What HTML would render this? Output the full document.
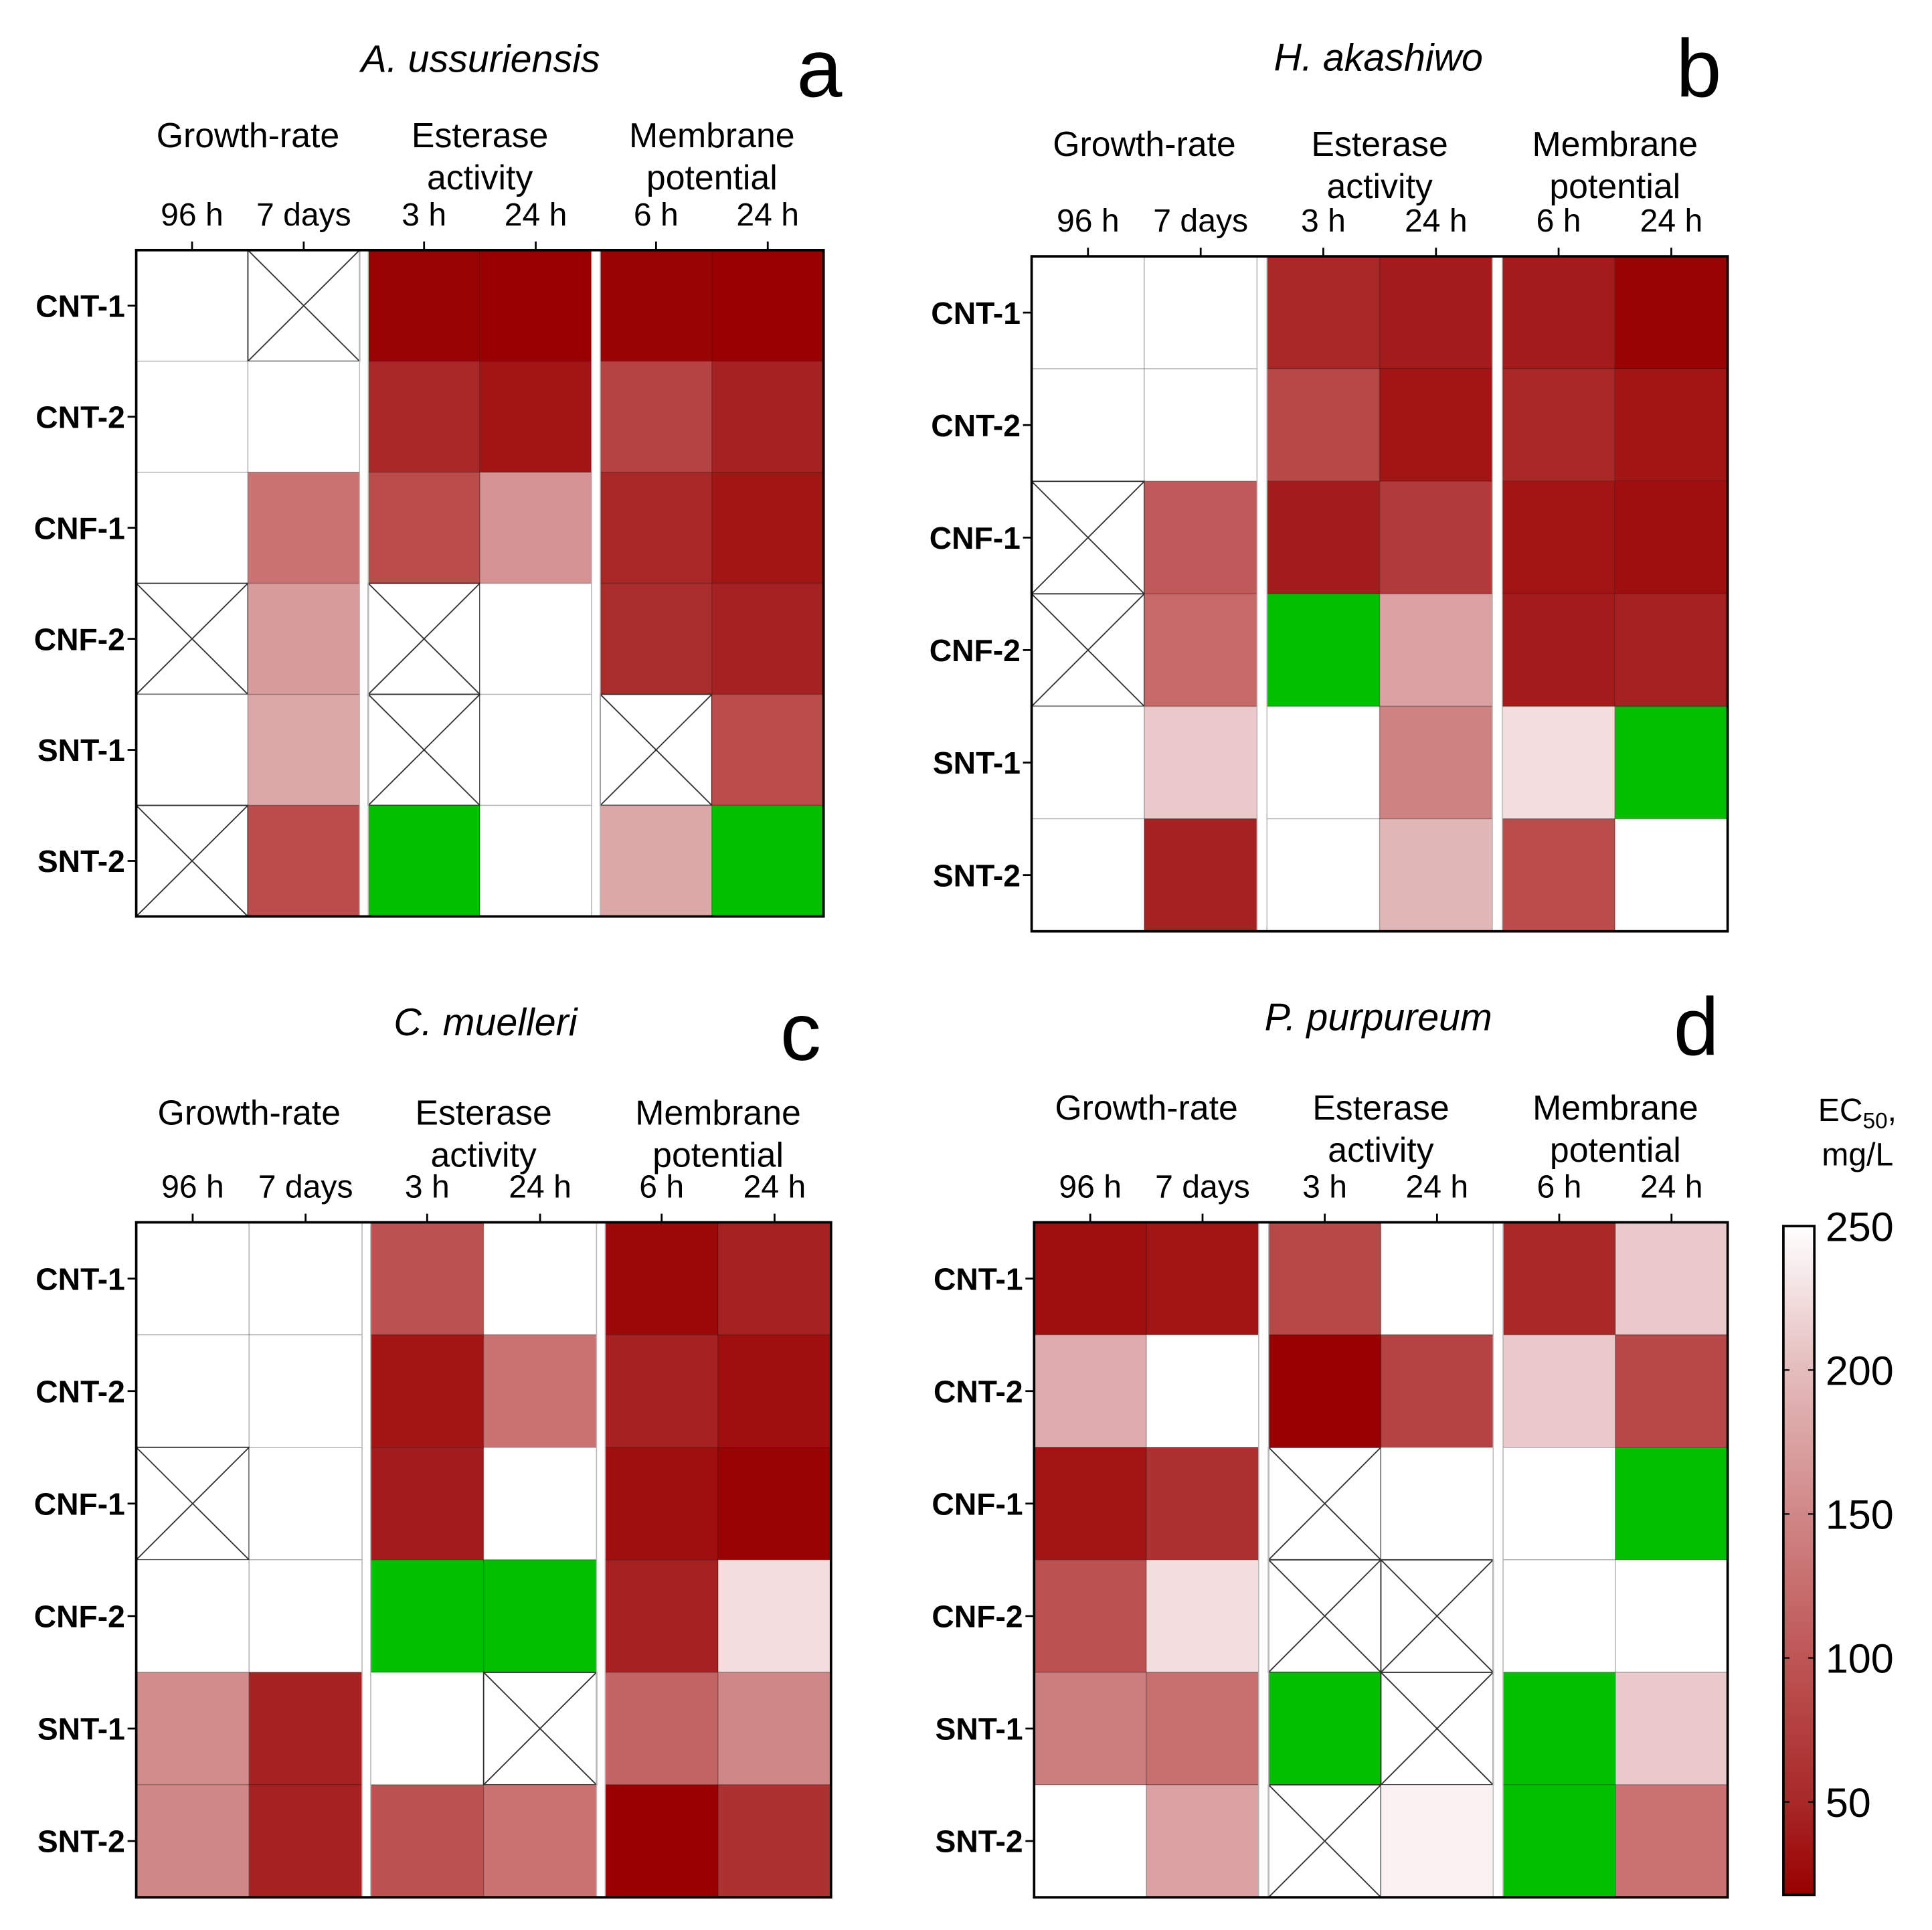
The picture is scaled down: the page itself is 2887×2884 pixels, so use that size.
<!DOCTYPE html>
<html><head><meta charset="utf-8"><style>
html,body{margin:0;padding:0;background:#fff}
svg{display:block}
text{font-family:"Liberation Sans",Arial,sans-serif;fill:#000}
</style></head><body>
<svg id="fig" xmlns="http://www.w3.org/2000/svg" width="2887" height="2884" viewBox="0 0 1560 1558.4" preserveAspectRatio="none"></svg>
<script>
// ---- data ----
const rowLabels = ["CNT-1","CNT-2","CNF-1","CNF-2","SNT-1","SNT-2"];
const colLabels = ["96 h","7 days","3 h","24 h","6 h","24 h"];
const groupLabels = [["Growth-rate"],["Esterase","activity"],["Membrane","potential"]];
const speciesNames = ["A. ussuriensis","H. akashiwo","C. muelleri","P. purpureum"];
const panelLetters = ["a","b","c","d"];
const colorbarTicks = [250,200,150,100,50];
// values in mg/L; 260 = above range (white), "X" = crossed (not determined), "G" = green (stimulation)
const valuesA = [
 [260,"X",20,18,20,18],
 [260,260,50,35,80,45],
 [260,130,90,160,50,35],
 ["X",170,"X",260,55,45],
 [260,180,"X",260,"X",90],
 ["X",90,"G",260,180,"G"]];
const valuesB = [
 [260,260,50,40,40,20],
 [260,260,85,35,50,35],
 ["X",105,40,70,35,30],
 ["X",120,"G",175,40,45],
 [260,210,260,145,225,"G"],
 [260,45,260,195,90,260]];
const valuesC = [
 [260,260,95,260,25,45],
 [260,260,35,130,45,30],
 ["X",260,40,260,30,20],
 [260,260,"G","G",45,225],
 [155,45,260,"X",115,150],
 [150,45,95,130,18,60]];
const valuesD = [
 [30,35,85,260,50,210],
 [185,260,18,80,210,85],
 [35,60,"X",260,260,"G"],
 [95,225,"X","X",260,260],
 [140,125,"G","X","G",210],
 [260,175,"X",240,"G",130]];
const panelValues = [valuesA,valuesB,valuesC,valuesD];

// ---- layout (not data) ----
const layouts = [
 {x0:110,x1:665,y0:202,y1:740,gap:7,tx:388,ty:58,lx:680,ly:78,hy:119},
 {x0:833,x1:1395,y0:207,y1:752,gap:8,tx:1113,ty:57,lx:1390,ly:78,hy:126},
 {x0:110,x1:671,y0:987,y1:1532,gap:7,tx:392,ty:836,lx:663,ly:856,hy:908},
 {x0:835,x1:1395,y0:987,y1:1532,gap:8,tx:1113,ty:832,lx:1388,ly:852,hy:904}];
const stops=[[18,[153,0,0]],[50,[168,40,40]],[100,[190,85,85]],[150,[208,135,135]],[200,[228,188,188]],[250,[255,255,255]]];
function colorScale(v){
  if(v>=250) return "#ffffff";
  if(v<=stops[0][0]) return "rgb(153,0,0)";
  for(let i=1;i<stops.length;i++){
    if(v<=stops[i][0]){const a=stops[i-1],b=stops[i];const t=(v-a[0])/(b[0]-a[0]);
      const c=a[1].map((x,k)=>Math.round(x+(b[1][k]-x)*t));return `rgb(${c})`;}
  }
}
const NS="http://www.w3.org/2000/svg";
const svg=document.getElementById("fig");
function mk(tag,attrs,parent){const e=document.createElementNS(NS,tag);for(const k in attrs)e.setAttribute(k,attrs[k]);(parent||svg).appendChild(e);return e;}

panelValues.forEach((vals,p)=>{
  const L=layouts[p];
  const g=mk("g",{});
  
  
  const cw=(L.x1-L.x0-2*L.gap)/6, rh=(L.y1-L.y0)/6;
  const xScale=c=>L.x0+c*cw+Math.floor(c/2)*L.gap;
  const yScale=r=>L.y0+r*rh;
  const t=mk("text",{x:L.tx,y:L.ty,"font-size":31,"font-style":"italic","text-anchor":"middle"},g);t.textContent=speciesNames[p];
  
  const lt=mk("text",{x:L.lx,y:L.ly,"font-size":66,"text-anchor":"end"},g);lt.textContent=panelLetters[p];
  
  groupLabels.forEach((lines,gi)=>{
    const cx=(xScale(gi*2)+xScale(gi*2+1)+cw)/2;
    lines.forEach((s,li)=>{const e=mk("text",{x:cx,y:L.hy+li*34,"font-size":28,"text-anchor":"middle"},g);e.textContent=s;
      });
  });
  colLabels.forEach((s,c)=>{
    const cx=xScale(c)+cw/2;
    const e=mk("text",{x:cx,y:L.y0-20,"font-size":26,"text-anchor":"middle"},g);e.textContent=s;
    
    mk("line",{x1:cx,x2:cx,y1:L.y0-7,y2:L.y0,stroke:"#000","stroke-width":1.5},g);
  });
  rowLabels.forEach((s,r)=>{
    const cy=yScale(r)+rh/2;
    const e=mk("text",{x:L.x0-9,y:cy+9,"font-size":25,"font-weight":"bold","text-anchor":"end"},g);e.textContent=s;
    
    mk("line",{x1:L.x0-7,x2:L.x0,y1:cy,y2:cy,stroke:"#000","stroke-width":1.5},g);
  });
  vals.forEach((row,r)=>row.forEach((v,c)=>{
    const x=xScale(c),y=yScale(r);
    let fill=v==="G"?"#00c000":(v==="X"?"#ffffff":colorScale(v));
    const rc=mk("rect",{x:x,y:y,width:cw,height:rh,fill:fill,stroke:"rgba(0,0,0,0.22)","stroke-width":0.8},g);
    
    if(v==="X"){
      mk("rect",{x:x,y:y,width:cw,height:rh,fill:"none",stroke:"#333","stroke-width":1},g);
      mk("line",{x1:x,y1:y,x2:x+cw,y2:y+rh,stroke:"#333","stroke-width":1},g);
      mk("line",{x1:x+cw,y1:y,x2:x,y2:y+rh,stroke:"#333","stroke-width":1},g);
    }
  }));
  [1,2].forEach(k=>{const gx=xScale(2*k)-L.gap;
    mk("line",{x1:gx,x2:gx,y1:L.y0,y2:L.y1,stroke:"#bbb","stroke-width":0.8},g);
    mk("line",{x1:gx+L.gap,x2:gx+L.gap,y1:L.y0,y2:L.y1,stroke:"#bbb","stroke-width":0.8},g);});
  const fr=mk("rect",{x:L.x0,y:L.y0,width:L.x1-L.x0,height:L.y1-L.y0,fill:"none",stroke:"#000","stroke-width":2},g);
  
});

// colorbar
const cb=mk("g",{});


const defs=mk("defs",{},cb);
const grad=mk("linearGradient",{id:"cbg",x1:0,y1:1,x2:0,y2:0},defs);
const cbY=v=>990+(250-v)*(1455-990)/200;
const cbBottom=1530, cbTop=990;
for(let v=18;v<=250;v+=8){const off=(cbBottom-cbY(v))/(cbBottom-cbTop);mk("stop",{offset:Math.max(0,Math.min(1,off)),"stop-color":colorScale(v)},grad);}
mk("rect",{x:1440,y:cbTop,width:25,height:cbBottom-cbTop,fill:"url(#cbg)",stroke:"#000","stroke-width":2},cb);
colorbarTicks.forEach(v=>{const y=cbY(v);
  if(v<250){mk("line",{x1:1440,x2:1445,y1:y,y2:y,stroke:"#000","stroke-width":1.2},cb);mk("line",{x1:1460,x2:1465,y1:y,y2:y,stroke:"#000","stroke-width":1.2},cb);}
  const e=mk("text",{x:1474,y:y+12,"font-size":33},cb);e.textContent=v;
  });
const ct=mk("text",{x:1468,y:905,"font-size":26},cb);ct.innerHTML='EC<tspan font-size="18" dy="6">50</tspan><tspan dy="-6">,</tspan>';

const cu=mk("text",{x:1471,y:941,"font-size":26},cb);cu.textContent="mg/L";

</script>
</body></html>
